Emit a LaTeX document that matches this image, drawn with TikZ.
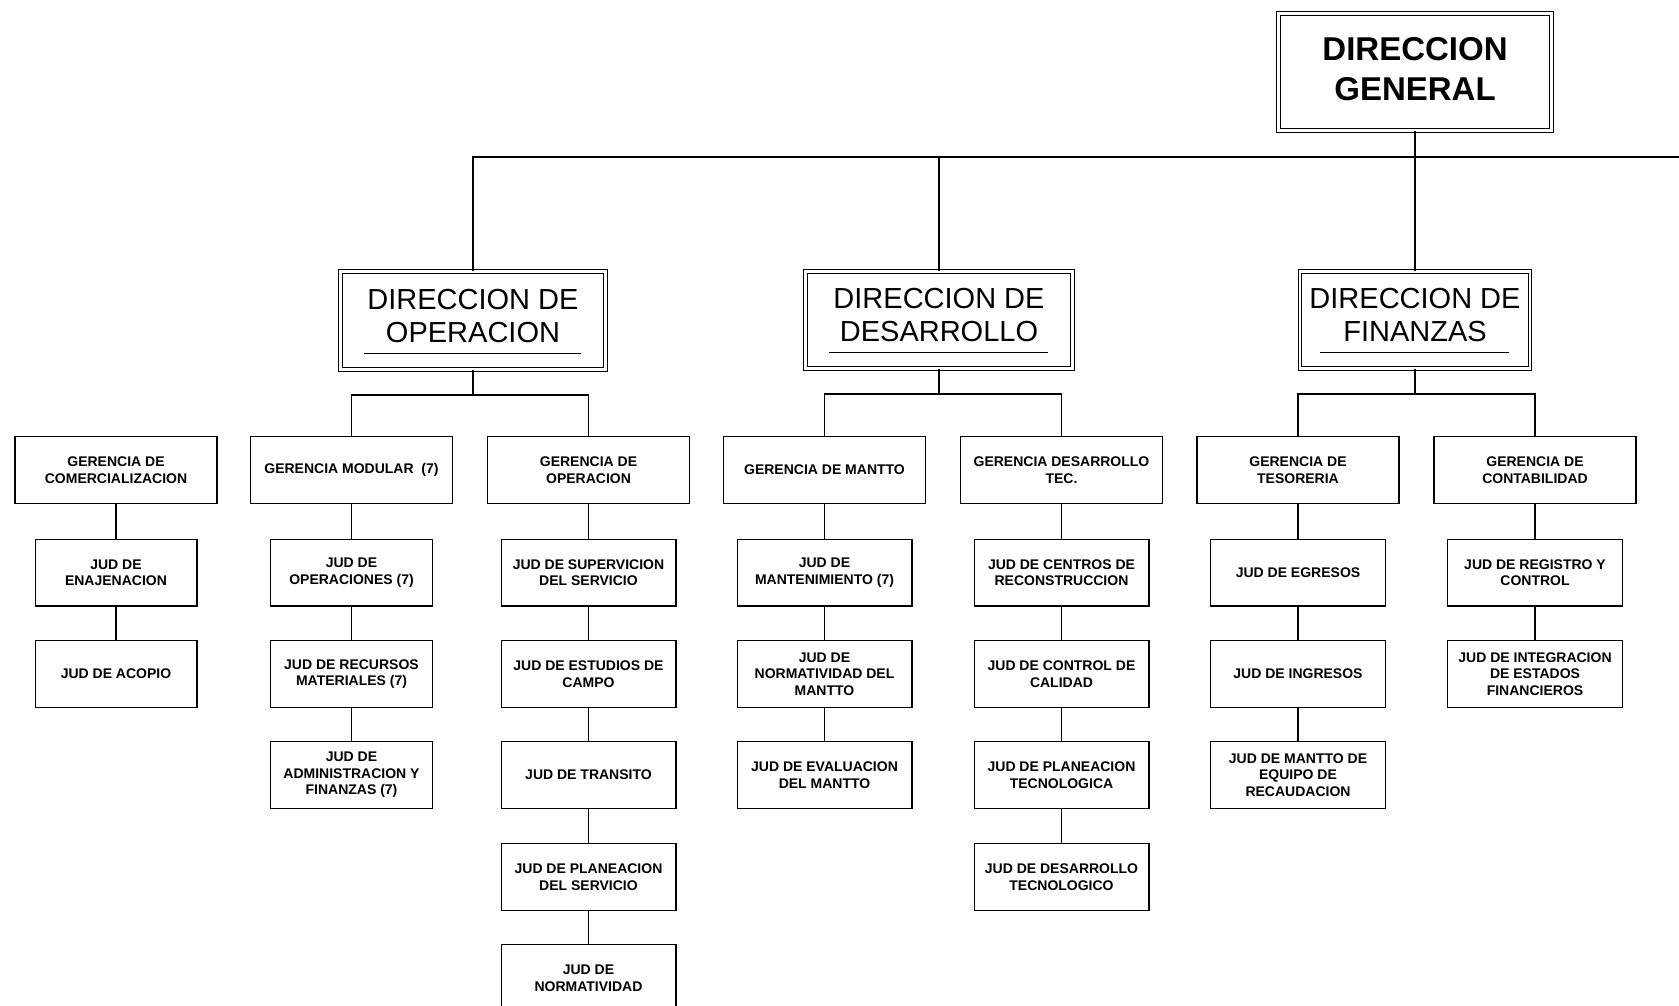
\documentclass[tikz,border=0pt]{standalone}
\usepackage{fontspec}
\setmainfont{Liberation Sans}
\tikzset{
	dirbox/.style={draw, double, line width=1.1pt, double distance=2.6pt, inner sep=0pt},
	dirtext/.style={align=center, inner sep=0pt, font=\fontsize{29}{33}\selectfont},
	gerbox/.style={draw, minimum width=202pt, minimum height=66.7pt, align=center, inner sep=2pt, font=\bfseries\fontsize{14}{16.5}\selectfont},
	judbox/.style={gerbox, minimum width=174.7pt},
	judthin/.style={gerbox, minimum width=161.7pt},
	subline/.style={line width=1pt}
}

\begin{document}
\begin{tikzpicture}[x=1pt, y=-1pt, line width=1.3pt]
				%%%%% START %%%%%
				\useasboundingbox (0,0) rectangle (1679,1006);
				\clip (0,0) rectangle (1679,1006);

				\node[dirbox, minimum width=273pt, minimum height=117pt] (dg) at (1415,72) {};
				\node[dirtext, font=\bfseries\fontsize{33}{39.5}\selectfont] (dg-txt) at ([yshift=3pt]dg.center) {DIRECCION\\GENERAL};

				\node[dirbox, minimum width=265pt, minimum height=98pt] (dirop) at (473,320.5) {};
				\node[dirbox, minimum width=267pt, minimum height=97pt] (dirdes) at (939,320) {};
				\node[dirbox, minimum width=230pt, minimum height=97pt] (dirfin) at (1415,320) {};
				\node[dirtext] (dirop-txt) at ([yshift=4.5pt]dirop.center) {DIRECCION DE\\OPERACION};
				\node[dirtext] (dirdes-txt) at ([yshift=4.5pt]dirdes.center) {DIRECCION DE\\DESARROLLO};
				\node[dirtext] (dirfin-txt) at ([yshift=4.5pt]dirfin.center) {DIRECCION DE\\FINANZAS};

				\draw[subline] ([xshift=24pt,yshift=16.5pt]dirop.south west) -- ([xshift=-25pt,yshift=16.5pt]dirop.south east);
				\draw[subline] ([xshift=24pt,yshift=16.5pt]dirdes.south west) -- ([xshift=-25pt,yshift=16.5pt]dirdes.south east);
				\draw[subline] ([xshift=21pt,yshift=16.5pt]dirfin.south west) -- ([xshift=-22pt,yshift=16.5pt]dirfin.south east);

				\coordinate (busend) at (1690,157);
				\draw (dirop.north) |- (busend);
				\draw (dirdes.north) -- (dirdes.north |- busend);
				\draw (dg.south) -- (dirfin.north);

				% comercializacion
				\node[gerbox] (gcom) at (116,470) {GERENCIA DE\\COMERCIALIZACION};
				\node[judthin] (jena) at (116,572.5) {JUD DE\\ENAJENACION};
				\node[judthin] (jaco) at (116,674) {JUD DE ACOPIO};
				\draw (gcom.south) -- (jena.north);
				\draw (jena.south) -- (jaco.north);

				% modular
				\node[gerbox] (gmod) at (351.5,470) {GERENCIA MODULAR \ (7)};
				\node[judthin] (jope) at (351.5,572.5) {JUD DE\\OPERACIONES (7)};
				\node[judthin] (jrec) at (351.5,674) {JUD DE RECURSOS\\MATERIALES (7)};
				\node[judthin] (jadm) at (351.5,775) {JUD DE\\ADMINISTRACION Y\\FINANZAS (7)};
				\draw (gmod.south) -- (jope.north);
				\draw (jope.south) -- (jrec.north);
				\draw (jrec.south) -- (jadm.north);

				% operacion
				\node[gerbox] (gope) at (588.5,470) {GERENCIA DE\\OPERACION};
				\node[judbox] (jsup) at (588.5,572.5) {JUD DE SUPERVICION\\DEL SERVICIO};
				\node[judbox] (jest) at (588.5,674) {JUD DE ESTUDIOS DE\\CAMPO};
				\node[judbox] (jtra) at (588.5,775) {JUD DE TRANSITO};
				\node[judbox] (jpla) at (588.5,877) {JUD DE PLANEACION\\DEL SERVICIO};
				\node[judbox] (jnor) at (588.5,978) {JUD DE\\NORMATIVIDAD};
				\draw (gope.south) -- (jsup.north);
				\draw (jsup.south) -- (jest.north);
				\draw (jest.south) -- (jtra.north);
				\draw (jtra.south) -- (jpla.north);
				\draw (jpla.south) -- (jnor.north);

				\draw (dirop.south) -- ++(0,25) coordinate (opbus);
				\draw (gmod.north) |- (opbus) -| (gope.north);

				% mantto
				\node[gerbox] (gman) at (824.5,470) {GERENCIA DE MANTTO};
				\node[judbox] (jmto) at (824.5,572.5) {JUD DE\\MANTENIMIENTO (7)};
				\node[judbox] (jnmt) at (824.5,674) {JUD DE\\NORMATIVIDAD DEL\\MANTTO};
				\node[judbox] (jeva) at (824.5,775) {JUD DE EVALUACION\\DEL MANTTO};
				\draw (gman.south) -- (jmto.north);
				\draw (jmto.south) -- (jnmt.north);
				\draw (jnmt.south) -- (jeva.north);

				% desarrollo tec.
				\node[gerbox] (gdtc) at (1061.5,470) {GERENCIA DESARROLLO\\TEC.};
				\node[judbox] (jcen) at (1061.5,572.5) {JUD DE CENTROS DE\\RECONSTRUCCION};
				\node[judbox] (jcal) at (1061.5,674) {JUD DE CONTROL DE\\CALIDAD};
				\node[judbox] (jptc) at (1061.5,775) {JUD DE PLANEACION\\TECNOLOGICA};
				\node[judbox] (jdtc) at (1061.5,877) {JUD DE DESARROLLO\\TECNOLOGICO};
				\draw (gdtc.south) -- (jcen.north);
				\draw (jcen.south) -- (jcal.north);
				\draw (jcal.south) -- (jptc.north);
				\draw (jptc.south) -- (jdtc.north);

				\draw (dirdes.south) -- ++(0,25) coordinate (desbus);
				\draw (gman.north) |- (desbus) -| (gdtc.north);

				% tesoreria
				\node[gerbox] (gtes) at (1298,470) {GERENCIA DE\\TESORERIA};
				\node[judbox] (jegr) at (1298,572.5) {JUD DE EGRESOS};
				\node[judbox] (jing) at (1298,674) {JUD DE INGRESOS};
				\node[judbox] (jrca) at (1298,775) {JUD DE MANTTO DE\\EQUIPO DE\\RECAUDACION};
				\draw (gtes.south) -- (jegr.north);
				\draw (jegr.south) -- (jing.north);
				\draw (jing.south) -- (jrca.north);

				% contabilidad
				\node[gerbox] (gcon) at (1535,470) {GERENCIA DE\\CONTABILIDAD};
				\node[judbox] (jreg) at (1535,572.5) {JUD DE REGISTRO Y\\CONTROL};
				\node[judbox] (jint) at (1535,674) {JUD DE INTEGRACION\\DE ESTADOS\\FINANCIEROS};
				\draw (gcon.south) -- (jreg.north);
				\draw (jreg.south) -- (jint.north);

				\draw (dirfin.south) -- ++(0,25) coordinate (finbus);
				\draw (gtes.north) |- (finbus) -| (gcon.north);
				%%%%% END %%%%%
\end{tikzpicture}
\end{document}
